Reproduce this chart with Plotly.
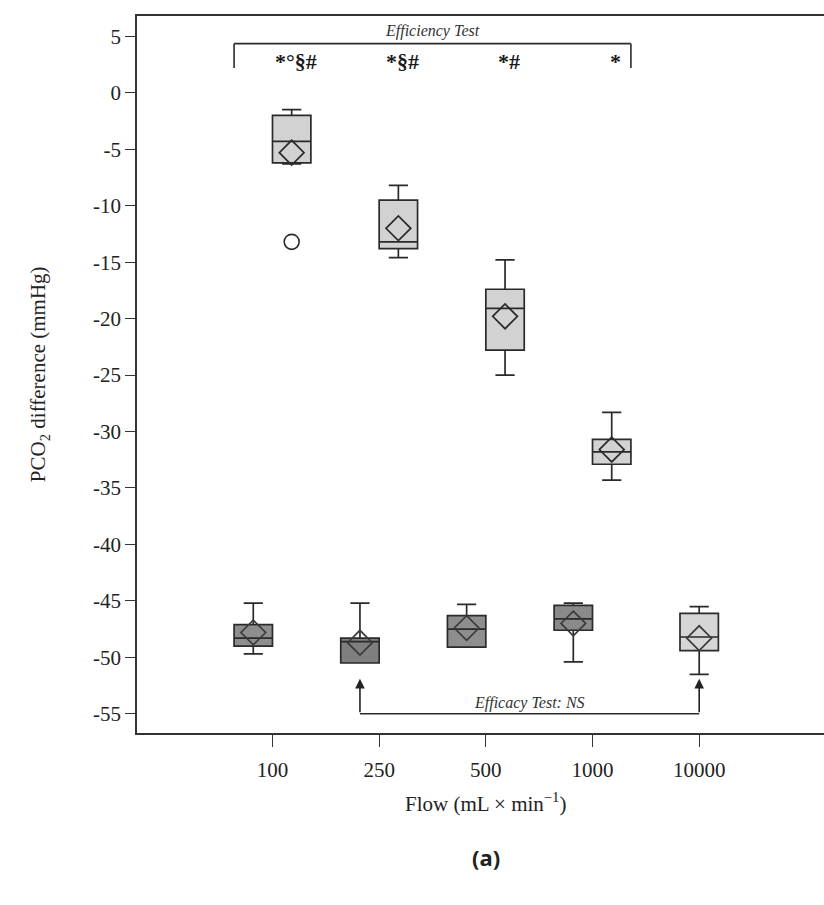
import plotly.graph_objects as go

# ---------------- data ----------------
flows = ["100", "250", "500", "1000", "10000"]

# Efficacy test (lower group, all five flows)
efficacy_upper = [-45.2, -45.2, -45.3, -45.2, -45.5]
efficacy_q3 = [-47.1, -48.3, -46.3, -45.4, -46.1]
efficacy_median = [-48.3, -48.6, -47.5, -46.6, -48.2]
efficacy_q1 = [-49.0, -50.5, -49.1, -47.6, -49.4]
efficacy_lower = [-49.7, -50.5, -49.1, -50.4, -51.5]
efficacy_mean = [-47.8, -48.7, -47.4, -47.0, -48.3]

# Efficiency test (upper group, first four flows)
efficiency_upper = [-1.5, -8.2, -14.8, -28.3]
efficiency_q3 = [-2.0, -9.5, -17.4, -30.7]
efficiency_median = [-4.3, -13.2, -19.1, -31.8]
efficiency_q1 = [-6.2, -13.8, -22.8, -32.9]
efficiency_lower = [-6.3, -14.6, -25.0, -34.3]
efficiency_mean = [-5.3, -12.0, -19.8, -31.6]
efficiency_outlier_flow = ["100"]
efficiency_outlier_value = [-13.2]

efficiency_marks = ["*°§#", "*§#", "*#", "*"]

y_ticks = [5, 0, -5, -10, -15, -20, -25, -30, -35, -40, -45, -50, -55]

# ---------------- layout helpers ----------------
OFF = 0.18
BW = 0.36
SERIF = "Liberation Serif"
idx = {f: i for i, f in enumerate(flows)}

def eff_x(i):
    return i + OFF

def cacy_x(i):
    return i - OFF if i < len(flows) - 1 else i

fig = go.Figure()

cacy_fill = ["#8e8e8e", "#7f7f7f", "#8e8e8e", "#8a8a8a", "#d6d6d6"]
for i, f in enumerate(flows):
    fig.add_trace(go.Box(
        x=[cacy_x(i)], q1=[efficacy_q1[i]], median=[efficacy_median[i]],
        q3=[efficacy_q3[i]], lowerfence=[efficacy_lower[i]],
        upperfence=[efficacy_upper[i]], width=BW, whiskerwidth=0.5,
        fillcolor=cacy_fill[i], line=dict(color="#2a2a2a", width=1.7),
        showlegend=False, hoverinfo="skip"))

for i in range(len(efficiency_q1)):
    fig.add_trace(go.Box(
        x=[eff_x(i)], q1=[efficiency_q1[i]], median=[efficiency_median[i]],
        q3=[efficiency_q3[i]], lowerfence=[efficiency_lower[i]],
        upperfence=[efficiency_upper[i]], width=BW, whiskerwidth=0.5,
        fillcolor="#d2d2d2", line=dict(color="#2a2a2a", width=1.7),
        showlegend=False, hoverinfo="skip"))

# mean diamonds
fig.add_trace(go.Scatter(
    x=[cacy_x(i) for i in range(len(flows))], y=efficacy_mean, mode="markers",
    marker=dict(symbol="diamond-open", size=19, color="#3a3a3a", line=dict(width=1.7)),
    showlegend=False, hoverinfo="skip"))
fig.add_trace(go.Scatter(
    x=[eff_x(i) for i in range(len(efficiency_mean))], y=efficiency_mean, mode="markers",
    marker=dict(symbol="diamond-open", size=19, color="#2a2a2a", line=dict(width=1.7)),
    showlegend=False, hoverinfo="skip"))
# outlier
fig.add_trace(go.Scatter(
    x=[eff_x(idx[f]) for f in efficiency_outlier_flow], y=efficiency_outlier_value,
    mode="markers",
    marker=dict(symbol="circle-open", size=15, color="#2a2a2a", line=dict(width=1.6)),
    showlegend=False, hoverinfo="skip"))

# efficiency bracket
bx0 = cacy_x(0) - BW / 2
bx1 = eff_x(3) + BW / 2
line_style = dict(color="#2a2a2a", width=1.6)
fig.add_shape(type="line", x0=bx0, x1=bx1, y0=4.35, y1=4.35, line=line_style)
fig.add_shape(type="line", x0=bx0, x1=bx0, y0=4.35, y1=2.2, line=line_style)
fig.add_shape(type="line", x0=bx1, x1=bx1, y0=4.35, y1=2.2, line=line_style)
fig.add_annotation(x=(bx0 + bx1) / 2, y=5.45, text="<i>Efficiency Test</i>", showarrow=False,
                   font=dict(family=SERIF, size=16, color="#333"))
for i, m in enumerate(efficiency_marks):
    fig.add_annotation(x=eff_x(i) + 0.04, y=2.75, text="<b>%s</b>" % m, showarrow=False,
                       font=dict(family=SERIF, size=22, color="#1a1a1a"))

# efficacy bracket with arrows
ax0 = cacy_x(idx["250"])
ax1 = cacy_x(idx["10000"])
fig.add_shape(type="line", x0=ax0, x1=ax1, y0=-55.0, y1=-55.0, line=line_style)
for xa in (ax0, ax1):
    fig.add_annotation(x=xa, y=-51.9, ax=xa, ay=-55.0, xref="x", yref="y",
                       axref="x", ayref="y", showarrow=True, arrowhead=2,
                       arrowsize=1.2, arrowwidth=1.6, arrowcolor="#222", text="")
fig.add_annotation(x=(ax0 + ax1) / 2, y=-54.0, text="<i>Efficacy Test: NS</i>", showarrow=False,
                   font=dict(family=SERIF, size=16, color="#333"))

# axis titles and panel label
fig.add_annotation(xref="paper", yref="paper", x=-0.165, y=0.5, textangle=-90,
                   text="PCO<sub>2</sub> difference (mmHg)", showarrow=False,
                   font=dict(family=SERIF, size=21, color="#222"))
fig.add_annotation(xref="paper", yref="paper", x=0.508, y=-0.097, yanchor="middle",
                   text="Flow (mL × min<sup>−1</sup>)", showarrow=False,
                   font=dict(family=SERIF, size=21, color="#222"))
fig.add_annotation(xref="paper", yref="paper", x=0.508, y=-0.173, yanchor="middle",
                   text="<b>(a)</b>", showarrow=False,
                   font=dict(family="Noto Sans", size=22, color="#222"))

fig.update_layout(
    width=824, height=905,
    margin=dict(l=137, r=0, t=16, b=172),
    paper_bgcolor="white", plot_bgcolor="white",
    showlegend=False,
    xaxis=dict(range=[-1.27, 5.17], tickmode="array", tickvals=list(range(len(flows))),
               ticktext=flows, showline=True, mirror=True, linecolor="#333", linewidth=1.6,
               ticks="outside", ticklen=12, tickcolor="#333", tickwidth=1.4,
               ticklabelstandoff=5,
               showgrid=False, zeroline=False,
               tickfont=dict(family=SERIF, size=21, color="#222")),
    yaxis=dict(range=[-56.7, 6.8], tickmode="array", tickvals=y_ticks,
               ticktext=[str(v) for v in y_ticks], showline=True, linecolor="#333",
               linewidth=1.6, ticks="outside", ticklen=10, tickcolor="#333", tickwidth=1.4,
               showgrid=False, zeroline=False,
               tickfont=dict(family=SERIF, size=21, color="#222")),
)

fig.write_html("out.html")
